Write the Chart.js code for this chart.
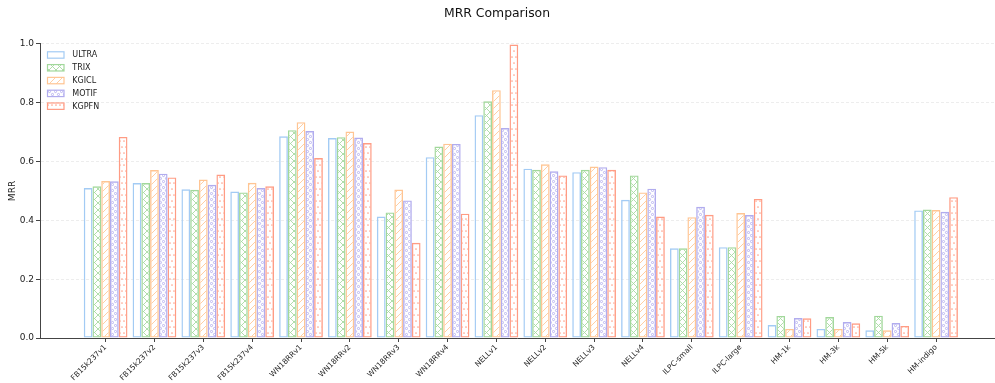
<!DOCTYPE html>
<html>
<head>
<meta charset="utf-8">
<script src="https://cdn.jsdelivr.net/npm/chart.js@4.4.0/dist/chart.umd.min.js"></script>
<style>
  html, body { margin: 0; padding: 0; background: #ffffff; }
  #c { display: block; }
</style>
</head>
<body>
<canvas id="c" width="995" height="383"></canvas>
<script>
// Datasets and their MRR scores
const categories = [
  'FB15k237v1', 'FB15k237v2', 'FB15k237v3', 'FB15k237v4',
  'WN18RRv1', 'WN18RRv2', 'WN18RRv3', 'WN18RRv4',
  'NELLv1', 'NELLv2', 'NELLv3', 'NELLv4',
  'ILPC-small', 'ILPC-large', 'HM-1k', 'HM-3k', 'HM-5k', 'HM-indigo'
];
const ultra = [0.510, 0.527, 0.506, 0.498, 0.686, 0.680, 0.413, 0.615, 0.758, 0.576, 0.564, 0.470, 0.305, 0.309, 0.044, 0.031, 0.026, 0.434];
const trix  = [0.516, 0.527, 0.504, 0.495, 0.707, 0.683, 0.427, 0.651, 0.805, 0.572, 0.572, 0.553, 0.305, 0.309, 0.075, 0.071, 0.076, 0.437];
const kgicl = [0.534, 0.571, 0.539, 0.528, 0.734, 0.702, 0.505, 0.661, 0.843, 0.591, 0.583, 0.495, 0.411, 0.425, 0.031, 0.031, 0.026, 0.435];
const motif = [0.533, 0.559, 0.521, 0.510, 0.704, 0.682, 0.468, 0.660, 0.714, 0.567, 0.581, 0.508, 0.446, 0.418, 0.068, 0.054, 0.051, 0.429];
const kgpfn = [0.684, 0.546, 0.556, 0.516, 0.612, 0.663, 0.324, 0.423, 0.998, 0.553, 0.572, 0.413, 0.419, 0.473, 0.067, 0.050, 0.041, 0.479];
const seriesNames = ['ULTRA', 'TRIX', 'KGICL', 'MOTIF', 'KGPFN'];
const yTickValues = [0.0, 0.2, 0.4, 0.6, 0.8, 1.0];

const FONT = '"DejaVu Sans", "Liberation Sans", sans-serif';
const canvas = document.getElementById('c');
const mainCtx = canvas.getContext('2d');

// Hatch tiles: none, crosshatch, diagonal, small rings, dots
function hatch(kind, color) {
  if (kind === '') return 'rgba(255,255,255,0)';
  const t = document.createElement('canvas');
  let w = 7, h = 7;
  if (kind === 'o') { w = 6; h = 6; }
  if (kind === '.') { w = 8; h = 12; }
  t.width = w; t.height = h;
  const g = t.getContext('2d');
  g.strokeStyle = color;
  g.fillStyle = color;
  g.lineWidth = 0.9;
  if (kind === '/' || kind === 'x') {
    g.beginPath();
    g.moveTo(-1, h + 1); g.lineTo(w + 1, -1);
    g.moveTo(-1, 1); g.lineTo(1, -1);
    g.moveTo(w - 1, h + 1); g.lineTo(w + 1, h - 1);
    g.stroke();
  }
  if (kind === 'x') {
    g.beginPath();
    g.moveTo(-1, -1); g.lineTo(w + 1, h + 1);
    g.moveTo(w - 1, -1); g.lineTo(w + 1, 1);
    g.moveTo(-1, h - 1); g.lineTo(1, h + 1);
    g.stroke();
  }
  if (kind === 'o') {
    [[1.5, 1.5], [4.5, 4.5]].forEach(([cx, cy]) => {
      g.beginPath(); g.arc(cx, cy, 1.1, 0, Math.PI * 2); g.stroke();
    });
  }
  if (kind === '.') {
    [[2, 3], [6, 3], [0, 9], [4, 9], [8, 9]].forEach(([cx, cy]) => {
      g.beginPath(); g.arc(cx, cy, 0.85, 0, Math.PI * 2); g.fill();
    });
  }
  return mainCtx.createPattern(t, 'repeat');
}

const seriesValues = [ultra, trix, kgicl, motif, kgpfn];
const edgeColors = ['#a3cbf4', '#a2d89b', '#ffc593', '#b1acee', '#ff9c84'];
const hatchColors = ['#a3cbf4', '#a8daa1', '#ffc89a', '#b3aeee', '#ffa48e'];
const hatchKinds = ['', 'x', '/', 'o', '.'];

const datasets = seriesNames.map((name, k) => ({
  label: name,
  data: seriesValues[k].map((v, i) => ({ x: i, y: v })),
  backgroundColor: hatch(hatchKinds[k], hatchColors[k]),
  borderColor: edgeColors[k],
  borderWidth: 1.4,
  borderSkipped: false,
  categoryPercentage: 0.895,
  barPercentage: 1.0
}));

// Legend drawn inside the plot, upper left
const insetLegend = {
  id: 'insetLegend',
  afterDatasetsDraw(chart) {
    const { ctx, chartArea } = chart;
    const x0 = chartArea.left + 7.5;
    const y0 = chartArea.top + 11;
    const step = 12.8;
    chart.data.datasets.forEach((ds, i) => {
      const y = y0 + i * step;
      ctx.save();
      ctx.fillStyle = '#ffffff';
      ctx.fillRect(x0, y - 3.2, 16.5, 6.4);
      ctx.fillStyle = ds.backgroundColor;
      ctx.fillRect(x0, y - 3.2, 16.5, 6.4);
      ctx.strokeStyle = ds.borderColor;
      ctx.lineWidth = 1.2;
      ctx.strokeRect(x0, y - 3.2, 16.5, 6.4);
      ctx.fillStyle = '#222222';
      ctx.font = '8px ' + FONT;
      ctx.textBaseline = 'middle';
      ctx.textAlign = 'left';
      ctx.fillText(ds.label, x0 + 24.8, y + 0.3);
      ctx.restore();
    });
  }
};

new Chart(mainCtx, {
  type: 'bar',
  data: { datasets },
  plugins: [insetLegend],
  options: {
    responsive: false,
    animation: false,
    devicePixelRatio: 1,
    layout: { padding: { left: 0, right: 1, top: 0, bottom: 0 } },
    plugins: {
      legend: { display: false },
      tooltip: { enabled: false },
      title: {
        display: true,
        text: 'MRR Comparison',
        color: '#111111',
        font: { family: FONT, size: 12.4, weight: 'normal' },
        padding: { top: 6, bottom: 23.1 }
      }
    },
    scales: {
      x: {
        type: 'linear',
        min: -1.343,
        max: 18.186,
        offset: false,
        afterBuildTicks: (s) => { s.ticks = categories.map((_, i) => ({ value: i })); },
        afterFit: (s) => { s.height = 45; },
        ticks: {
          autoSkip: false,
          minRotation: 45,
          maxRotation: 45,
          padding: 1,
          color: '#222222',
          font: { family: FONT, size: 7.5 },
          callback: (v) => categories[v] ?? ''
        },
        grid: {
          offset: false,
          drawOnChartArea: false,
          drawTicks: true,
          tickLength: 4,
          tickColor: '#444444',
          tickWidth: 1
        },
        border: { display: true, color: '#444444', width: 1 }
      },
      y: {
        min: 0,
        max: 1,
        afterBuildTicks: (s) => { s.ticks = yTickValues.map((v) => ({ value: v })); },
        afterFit: (s) => { s.width = 40; },
        ticks: {
          padding: 2,
          color: '#222222',
          font: { family: FONT, size: 9 },
          callback: (v) => Number(v).toFixed(1)
        },
        title: {
          display: true,
          text: 'MRR',
          color: '#222222',
          font: { family: FONT, size: 9 },
          padding: { top: 7, bottom: 0 }
        },
        grid: {
          color: 'rgba(0,0,0,0.09)',
          lineWidth: 0.8,
          drawTicks: true,
          tickLength: 4,
          tickColor: '#444444',
          tickWidth: 1,
          tickBorderDash: []
        },
        border: { display: true, color: '#444444', width: 1, dash: [3, 2] }
      }
    }
  }
});
</script>
</body>
</html>
